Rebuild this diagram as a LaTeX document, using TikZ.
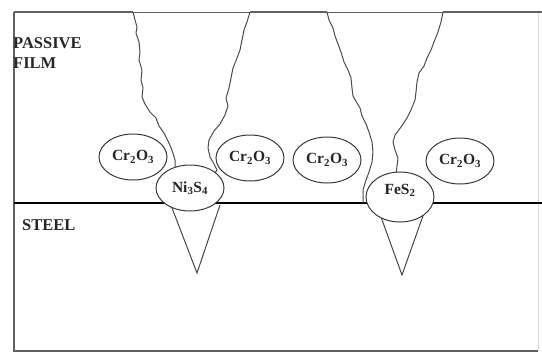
\documentclass[tikz,border=0pt]{standalone}
\usepackage{fontspec}
\setmainfont{Liberation Serif}
\usetikzlibrary{shapes.geometric}

\tikzset{
  frame/.style={gray!75!black, line width=1.4pt},
  crack/.style={gray!60!black, line width=1pt, line join=round},
  grain/.style={ellipse, draw=gray!45!black, line width=1pt, fill=white,
    minimum width=68pt, minimum height=46pt, inner sep=0pt,
    font=\fontsize{15.5}{17}\selectfont\bfseries, text=black!85},
  pit/.style={gray!55!black, line width=1pt, line join=miter},
  zone/.style={font=\fontsize{16.5}{20}\selectfont\bfseries, text=black!85,
    inner sep=0pt, align=left, anchor=north west}
}

\begin{document}
\begin{tikzpicture}[x=1pt,y=-1pt]
\useasboundingbox (0,0) rectangle (542,354);

% === Outer box ===
\draw[frame] (14,12) -- (14,351) -- (538,351);
\draw[gray!30, line width=0.8pt] (538,351) -- (538,12);
% top surface of the film, thinner inside the cracks
\draw[frame, line width=2pt] (14,12) -- (133,12);
\draw[frame, line width=0.9pt] (133,12) -- (250,12);
\draw[frame, line width=2pt] (250,12) -- (327,12);
\draw[frame, line width=0.9pt] (327,12) -- (443,12);
\draw[frame, line width=2pt] (443,12) -- (542,12);

% === Film / steel interface ===
\draw[black, line width=2.4pt] (14,203) -- (542,203);

% === Cracks through the passive film ===
\draw[crack] (133,12) -- (135,20) -- (137,27) -- (136,33) -- (139,42) -- (140,52)
  -- (139,60) -- (142,70) -- (141,80) -- (143,88) -- (142,97) -- (145,104)
  -- (150,112) -- (156,118) -- (159,126) -- (164,133) -- (168,141) -- (172,150)
  -- (175,160) -- (175,168) -- (171,176);
\draw[crack] (250,12) -- (247,22) -- (244,30) -- (242,40) -- (240,50) -- (237,58)
  -- (233,68) -- (231,78) -- (229,88) -- (226,98) -- (228,106) -- (225,115)
  -- (220,124) -- (214,131) -- (209,140) -- (208,148) -- (210,157) -- (214,164)
  -- (217,170) -- (213,176);
\draw[crack] (327,12) -- (329,20) -- (333,28) -- (335,36) -- (338,44) -- (341,52)
  -- (344,62) -- (348,70) -- (351,78) -- (352,88) -- (353,96) -- (357,103)
  -- (360,108) -- (362,116) -- (366,124) -- (369,132) -- (372,142) -- (373,152)
  -- (372,162) -- (369,172) -- (366,180) -- (363,190) -- (363,203);
\draw[crack] (443,12) -- (441,22) -- (438,32) -- (434,42) -- (431,50) -- (427,58)
  -- (424,66) -- (419,73) -- (417,82) -- (416,92) -- (415,100) -- (411,110)
  -- (407,118) -- (401,127) -- (395,135) -- (393,142) -- (395,150) -- (398,158)
  -- (397,166) -- (396,176);

% === Pits into the steel ===
\draw[pit] (172,208) -- (197,273) -- (220,205);
\draw[pit] (381,217) -- (402,275) -- (424,213);

% === Oxide and sulphide inclusions ===
\foreach \nm/\cx/\cy in {cr1/133/157, cr2/250/158, cr3/327/160, cr4/460/161}
  \node[grain] (\nm) at (\cx,\cy) {Cr\textsubscript{2}O\textsubscript{3}};

\node[grain] (nis) at (190,188) {Ni\textsubscript{3}S\textsubscript{4}};
\node[grain, minimum height=50pt] (fes) at (400,197) {};
\node[font=\fontsize{15.5}{17}\selectfont\bfseries, text=black!85, inner sep=0pt]
  (fes-lbl) at ([yshift=7pt]fes.center) {FeS\textsubscript{2}};

% === Zone labels ===
\node[zone] (film) at (13,37) {PASSIVE\\FILM};
\node[zone] (steel) at (22,219) {STEEL};

\end{tikzpicture}
\end{document}
